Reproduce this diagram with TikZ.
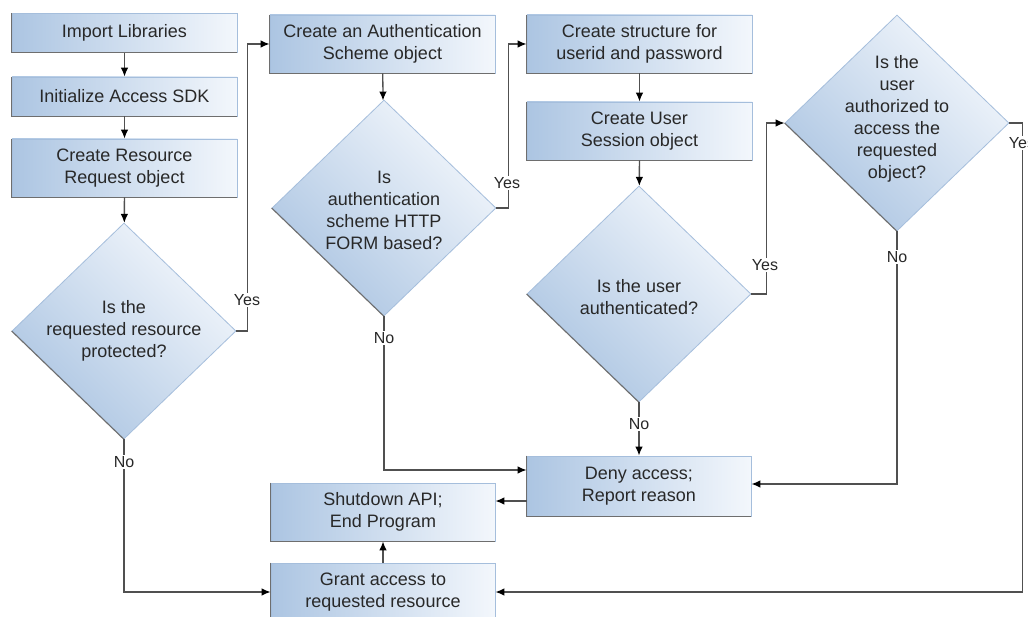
\documentclass[tikz,border=0pt]{standalone}
\usepackage{fontspec}
\setmainfont{Liberation Sans}
\usetikzlibrary{shapes.geometric,arrows.meta}
\definecolor{bblue}{RGB}{172,197,226}
\definecolor{bwhite}{RGB}{243,247,252}
\definecolor{bedge}{RGB}{165,190,220}
\definecolor{bshadow}{RGB}{110,110,110}
\definecolor{lnc}{RGB}{80,80,80}
\definecolor{txt}{RGB}{40,40,40}
\begin{document}
\begin{tikzpicture}[x=1pt,y=-1pt,
  box/.style={rectangle, left color=bblue, right color=bwhite, draw=bedge, line width=0.8pt,
    minimum width=225pt, inner sep=0pt, align=center, text=txt,
    font=\fontsize{18}{22}\selectfont},
  dia/.style={diamond, top color=bwhite, bottom color=bblue, shading angle=-45, draw=bedge,
    line width=0.8pt, minimum width=224pt, minimum height=216pt, inner sep=0pt},
  diatext/.style={align=center, text=txt, font=\fontsize{18}{22}\selectfont},
  arr/.style={draw=lnc, line width=1.3pt, -{Latex[length=9pt,width=7.5pt,color=black]}},
  shadeline/.style={draw=bshadow, line width=1.1pt},
  lbl/.style={fill=white, inner sep=1.5pt, text=txt, font=\fontsize{16}{18}\selectfont}
]
\fill[white] (0,0) rectangle (1028,617);
\useasboundingbox (0,0) rectangle (1028,617);

% boxes
\node[box, minimum height=39pt] (imp) at (124.5,33) {Import Libraries};
\node[box, minimum height=39pt] (init) at (124.5,96.5) {Initialize Access SDK};
\node[box, minimum height=58pt] (crr) at (124.5,168) {Create Resource\\Request object};
\node[dia] (d1) at (124,331) {};
\node[diatext] (d1t) at (124,331) {Is the\\requested resource\\protected?};

\node[box, minimum height=58pt] (cas) at (382.5,44) {Create an Authentication\\Scheme object};
\node[dia] (d2) at (384,208) {};
\node[diatext] (d2t) at (384,210) {Is\\authentication\\scheme HTTP\\FORM based?};

\node[box, minimum height=58pt] (csu) at (639.5,44) {Create structure for\\userid and password};
\node[box, minimum height=58pt] (cus) at (639.5,131) {Create User\\Session object};
\node[dia] (d3) at (639,294) {};
\node[diatext] (d3t) at (639,297) {Is the user\\authenticated?};

\node[dia] (d4) at (897,123) {};
\node[diatext] (d4t) at (897,119) {Is the\\user\\authorized to\\access the\\requested\\object?};

\node[box, minimum width=224pt, minimum height=60pt] (deny) at (639,486) {Deny access;\\Report reason};
\node[box, minimum width=224pt, minimum height=58pt] (shut) at (383,512) {Shutdown API;\\End Program};
\node[box, minimum width=224pt, minimum height=58pt] (grant) at (383,592) {Grant access to\\requested resource};

% darker shadow edges
\foreach \n in {imp,init,crr,cas,csu,cus,deny,shut,grant}{
  \draw[shadeline] (\n.north west) -- (\n.south west) -- (\n.south east);
}
\foreach \n in {d1,d2,d3,d4}{
  \draw[shadeline] (\n.west) -- (\n.south);
}

% connectors
\draw[arr] (imp) -- (init);
\draw[arr] (init) -- (crr);
\draw[arr] (crr) -- (d1);
\draw[arr] (d1.east) -- ++(11,0) |- (cas.west);
\draw[arr] (d1.south) |- (grant.west);
\draw[arr] (cas) -- (d2);
\draw[arr] (d2.east) -- ++(12,0) |- (csu.west);
\draw[arr] (d2.south) |- ([yshift=16pt]deny.west);
\draw[arr] (csu) -- (cus);
\draw[arr] (cus) -- (d3);
\draw[arr] (d3.east) -- ++(15,0) |- (d4.west);
\draw[arr] (d3.south) -- (deny.north);
\draw[arr] (d4.east) -- ++(13,0) |- (grant.east);
\draw[arr] (d4.south) |- ([yshift=2pt]deny.east);
\draw[arr] ([yshift=-15pt]deny.west) -- ([yshift=-15pt]deny.west -| shut.east);
\draw[arr] (grant) -- (shut);

% labels
\node[lbl] (y1) at (247,300) {Yes};
\node[lbl] (n1) at (124,462) {No};
\node[lbl] (y2) at (507,183) {Yes};
\node[lbl] (n2) at (384,338) {No};
\node[lbl] (y3) at (765,265) {Yes};
\node[lbl] (n3) at (639,424) {No};
\node[lbl] (y4) at (1022,143) {Yes};
\node[lbl] (n4) at (897,257) {No};
\end{tikzpicture}
\end{document}
